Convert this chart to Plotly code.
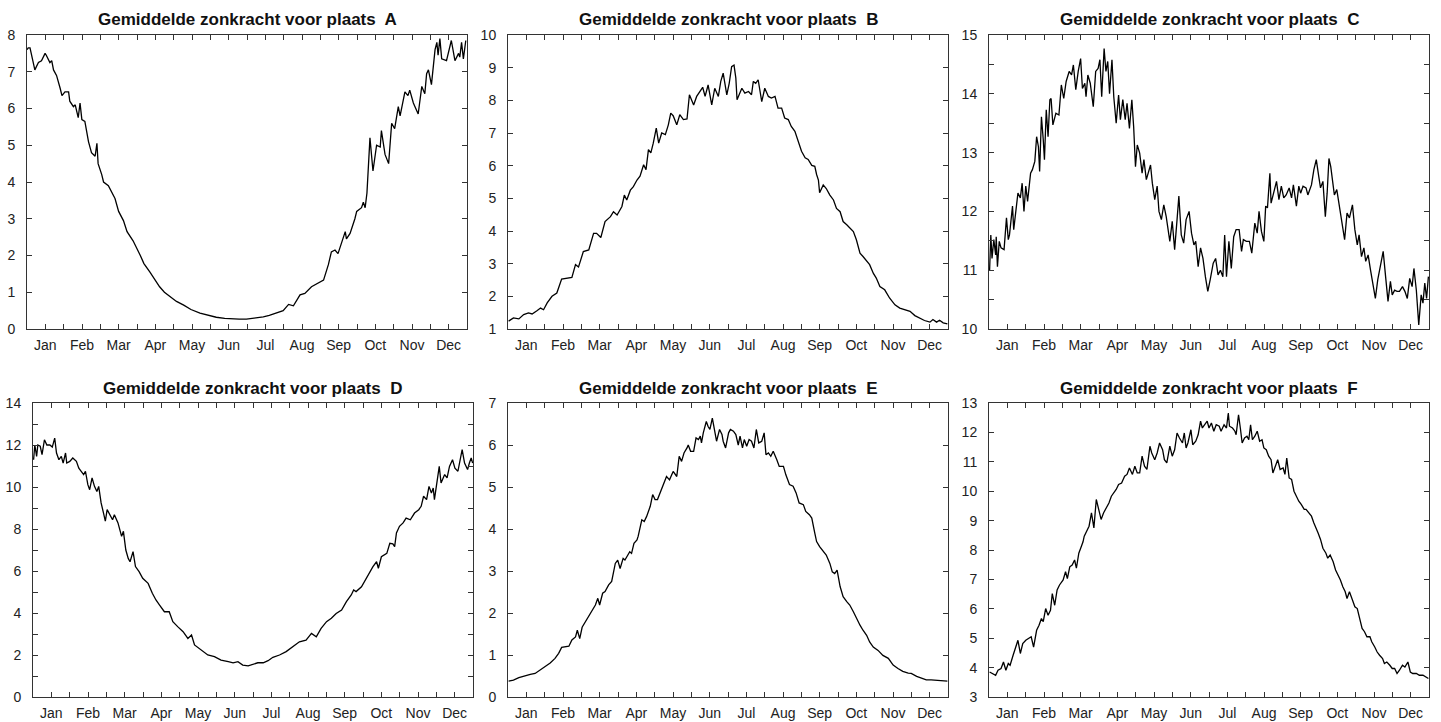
import plotly.graph_objects as go

# ---------------- data (day of year, value) ----------------
MONTHS = ["Jan", "Feb", "Mar", "Apr", "May", "Jun", "Jul", "Aug", "Sep", "Oct", "Nov", "Dec"]
PLACES = ["A", "B", "C", "D", "E", "F"]

A_days = [0, 1, 2.5, 5, 6.5, 9.5, 12, 15, 16, 19,
          20.5, 22, 24.5, 27.5, 29, 31.5, 34.5, 35.5, 38.5, 40,
          42.5, 44, 45.5, 48, 51, 53.5, 56.5, 58, 59, 62,
          63.5, 67.5, 73, 76, 80, 83, 88, 94, 97, 102,
          106, 110, 114, 119, 124, 130, 136, 143.5, 150, 157,
          164, 171, 176, 182, 189, 196, 201, 207, 212.5, 217,
          221, 226.5, 230.5, 236, 243, 246, 250, 252.5, 255.5, 258,
          261, 264, 265, 268, 272, 273.5, 277.5, 279, 280.5, 282,
          284.5, 287, 290, 293, 294, 297, 300, 302.5, 305, 308,
          309.5, 313.5, 316, 317.5, 320.5, 324.5, 327.5, 330, 331.5, 333,
          335.5, 338.5, 340, 341, 342.5, 344, 348, 352, 355, 358,
          359, 360.5, 362, 364]
A_vals = [7.6, 7.65, 7.65, 7.3, 7.05, 7.25, 7.3, 7.5, 7.45, 7.25,
          7.3, 7.05, 6.9, 6.55, 6.35, 6.45, 6.45, 6.2, 6.05, 6.1,
          5.75, 6.15, 5.7, 5.65, 5.1, 4.8, 4.7, 5.05, 4.5, 4.2,
          4.0, 3.9, 3.55, 3.2, 2.95, 2.65, 2.4, 2.0, 1.78, 1.55,
          1.35, 1.15, 1.0, 0.88, 0.75, 0.65, 0.53, 0.43, 0.37, 0.32,
          0.29, 0.27, 0.27, 0.27, 0.29, 0.33, 0.37, 0.43, 0.5, 0.67,
          0.63, 0.93, 0.97, 1.15, 1.29, 1.33, 1.75, 2.1, 2.15, 2.05,
          2.35, 2.65, 2.45, 2.6, 3.0, 3.2, 3.3, 3.45, 3.3, 3.7,
          5.2, 4.3, 5.0, 4.95, 5.4, 4.75, 4.5, 5.6, 5.45, 6.05,
          5.8, 6.45, 6.35, 6.5, 6.15, 5.85, 6.6, 6.4, 6.95, 7.05,
          6.65, 7.6, 7.8, 7.45, 7.9, 7.35, 7.3, 7.85, 7.3, 7.5,
          7.4, 7.8, 7.35, 7.85]

B_days = [0.5, 4.5, 9, 13, 17, 20, 24, 27, 29.5, 32.5,
          36.5, 40.5, 44.5, 49, 53, 56, 58.5, 62.5, 67, 71,
          73.5, 77, 80.5, 85, 87.5, 90.5, 94.5, 96.5, 98.5, 101.5,
          104, 107, 109.5, 112.5, 114.5, 116.5, 118.5, 120.5, 123, 125,
          127.5, 130.5, 133, 135, 137, 140, 142.5, 145.5, 148.5, 150.5,
          154, 156.5, 159.5, 161.5, 163.5, 166, 169, 171.5, 174.5, 176.5,
          178.5, 181.5, 183.5, 185.5, 187.5, 189, 190, 194, 196.5, 199.5,
          202, 203.5, 205.5, 207.5, 210.5, 213, 216, 218.5, 221.5, 224,
          227, 229.5, 232.5, 235, 238, 241, 243.5, 246.5, 249, 252,
          254.5, 256, 257.5, 258.5, 261.5, 264, 267, 270, 272.5, 275.5,
          278, 281, 283.5, 286.5, 289, 292, 294.5, 297.5, 300, 303,
          305.5, 308.5, 312.5, 316.5, 321, 325, 329, 333.5, 337.5, 341.5,
          345.5, 350, 352.5, 355.5, 358, 361, 364.5]
B_vals = [1.24, 1.34, 1.31, 1.44, 1.49, 1.46, 1.56, 1.64, 1.59, 1.80,
          2.0, 2.1, 2.53, 2.56, 2.58, 2.97, 2.9, 3.37, 3.42, 3.93,
          3.93, 3.8, 4.29, 4.44, 4.59, 4.49, 4.75, 5.1, 4.95, 5.25,
          5.36, 5.56, 5.68, 6.03, 5.88, 6.49, 6.39, 6.69, 7.15, 6.69,
          7.0, 6.95, 7.25, 7.61, 7.53, 7.25, 7.56, 7.41, 7.43, 8.17,
          7.86, 8.12, 8.27, 8.4, 8.12, 8.47, 7.86, 8.37, 8.12, 8.58,
          8.83, 8.17, 8.52, 9.03, 9.08, 8.68, 8.02, 8.37, 8.22, 8.27,
          8.17, 8.58, 8.52, 8.63, 7.96, 8.37, 8.12, 8.07, 8.12, 7.76,
          7.76, 7.46, 7.41, 7.2, 7.05, 6.69, 6.44, 6.24, 6.19, 6.01,
          5.98, 5.73, 5.56, 5.17, 5.41, 5.3, 5.1, 4.95, 4.69, 4.59,
          4.29, 4.19, 4.08, 3.98, 3.73, 3.32, 3.22, 3.07, 2.97, 2.71,
          2.56, 2.3, 2.2, 1.95, 1.74, 1.64, 1.59, 1.54, 1.41, 1.34,
          1.26, 1.21, 1.29, 1.21, 1.27, 1.19, 1.16]

C_days = [0.5, 1.5, 2.5, 4, 5.5, 6, 7, 8.5, 10, 12.5,
          14.5, 16, 17, 19.5, 20.5, 22.5, 24, 26, 27.5, 29,
          30.5, 32, 33.5, 34.5, 36, 38, 39.5, 41, 42, 43.5,
          45, 46, 47.5, 49, 50.5, 51.5, 53, 55.5, 58, 60,
          62, 64, 66.5, 68.5, 70, 72, 74, 76, 77.5, 79.5,
          80.5, 82, 84, 86.5, 88.5, 90.5, 92, 93.5, 95.5, 97,
          98.5, 100, 102, 103.5, 105.5, 107.5, 109, 111, 113, 114.5,
          116.5, 118.5, 120, 121.5, 123, 125, 127, 128.5, 130.5, 132.5,
          134, 135.5, 137.5, 139.5, 141, 143, 145, 147, 150, 152,
          154, 156, 157.5, 159.5, 161.5, 163.5, 166, 168, 170, 171.5,
          173.5, 175.5, 177.5, 179.5, 181.5, 183.5, 186, 188, 190, 192,
          194, 195.5, 197, 199, 201, 203, 205, 207.5, 209.5, 211,
          213.5, 216, 218, 220.5, 222.5, 224, 226, 228, 229.5, 231,
          233, 234, 236, 238.5, 240.5, 242.5, 244.5, 246.5, 249, 251,
          252.5, 255, 257, 258.5, 260.5, 263, 264.5, 267.5, 269.5, 271.5,
          273.5, 275, 277, 279, 280.5, 282, 283.5, 285, 286.5, 288.5,
          291, 293, 295, 297, 299, 301.5, 303.5, 305.5, 307, 309,
          311, 312.5, 314.5, 316.5, 318.5, 320.5, 322.5, 324.5, 327, 329,
          331, 333, 334.5, 336.5, 338.5, 340.5, 343, 345, 347, 349,
          351, 352.5, 354.5, 356.5, 358.5, 360, 361.5, 363, 364.5]
C_vals = [11.0, 11.6, 11.2, 11.52, 11.26, 11.57, 11.06, 11.49, 11.38, 11.35,
          11.89, 11.52, 11.6, 12.09, 11.69, 12.09, 12.31, 12.23, 12.48, 12.0,
          12.43, 12.17, 12.51, 12.65, 12.71, 12.85, 13.27, 13.1, 12.68, 13.61,
          13.22, 12.88, 13.73, 13.27, 13.9, 13.92, 13.47, 13.67, 13.64, 14.15,
          13.92, 14.21, 14.38, 14.32, 14.49, 14.07, 14.38, 14.6, 14.09, 14.18,
          13.95, 14.32, 14.18, 13.78, 14.38, 14.43, 14.58, 13.95, 14.77, 14.38,
          14.55, 14.0, 14.58, 13.95, 13.5, 13.98, 13.56, 13.9, 13.56, 13.84,
          13.41, 13.9, 13.44, 12.76, 13.13, 12.99, 12.65, 12.88, 12.54, 12.68,
          12.79, 12.48, 12.2, 12.43, 12.0, 11.86, 12.11, 11.91, 11.49, 11.83,
          11.35, 11.86, 12.26, 11.6, 11.46, 11.86, 12.0, 11.63, 11.43, 11.49,
          11.06, 11.38, 11.2, 10.89, 10.64, 10.84, 11.12, 11.2, 10.92, 11.0,
          10.89, 11.6, 10.89, 11.49, 11.03, 11.57, 11.69, 11.69, 11.32, 11.52,
          11.49, 11.49, 11.29, 11.8, 11.63, 12.0, 11.66, 11.49, 12.09, 12.06,
          12.65, 12.14, 12.31, 12.51, 12.2, 12.43, 12.23, 12.28, 12.4, 12.23,
          12.45, 12.09, 12.43, 12.31, 12.43, 12.4, 12.28, 12.45, 12.71, 12.88,
          12.6, 12.4, 12.51, 11.91, 12.31, 12.9, 12.76, 12.54, 12.28, 12.37,
          12.03, 11.8, 11.52, 11.97, 11.89, 12.11, 11.69, 11.43, 11.6, 11.23,
          11.38, 11.15, 11.26, 11.0, 10.78, 10.52, 10.84, 11.06, 11.32, 10.89,
          10.47, 10.81, 10.58, 10.66, 10.64, 10.64, 10.72, 10.64, 10.52, 10.86,
          10.72, 11.03, 10.66, 10.07, 10.58, 10.44, 10.78, 10.52, 10.89]

D_days = [0.5, 1.5, 3, 4, 6, 7.5, 9.5, 11.5, 14, 16,
          18, 19.5, 21.5, 23.5, 25, 27, 28, 30.5, 33, 36,
          38, 40, 42, 43.5, 45.5, 47, 49, 51, 53, 54.5,
          56.5, 58.5, 60, 61.5, 63.5, 66, 67.5, 70.5, 73.5, 75,
          77, 79, 80.5, 83, 85, 88, 91, 95.5, 99, 102,
          105, 109, 113, 116, 120, 124.5, 128.5, 131.5, 134, 139.5,
          145, 150.5, 156, 162, 166, 170, 174, 178.5, 182.5, 186.5,
          191, 195, 199, 204.5, 210, 215.5, 221, 226.5, 231, 235,
          239, 243.5, 247.5, 251.5, 256, 260, 264, 266, 268, 272.5,
          276.5, 279.5, 282, 285, 286.5, 289, 291.5, 293.5, 296, 298.5,
          300, 301.5, 304, 307, 309.5, 313, 316.5, 320, 322, 324,
          326.5, 328.5, 330.5, 332, 333, 335, 337, 338.5, 341.5, 343.5,
          345.5, 348, 350, 352.5, 354.5, 356, 358, 360.5, 362, 363.5,
          364.7]
D_vals = [11.3, 12.0, 11.46, 12.0, 11.94, 11.54, 12.25, 12.0, 12.0, 11.9,
          12.33, 11.62, 11.3, 11.46, 11.14, 11.62, 11.14, 11.22, 11.38, 11.22,
          10.9, 10.75, 10.59, 10.75, 10.11, 9.87, 10.43, 10.03, 9.79, 10.03,
          9.24, 8.76, 8.37, 8.92, 8.68, 8.44, 8.68, 8.29, 7.65, 7.89,
          7.0, 6.6, 6.44, 6.92, 6.21, 5.97, 5.65, 5.41, 4.94, 4.62,
          4.38, 4.06, 4.06, 3.59, 3.35, 3.11, 2.79, 2.95, 2.48, 2.24,
          2.0, 1.92, 1.76, 1.68, 1.63, 1.68, 1.52, 1.48, 1.57, 1.63,
          1.63, 1.73, 1.89, 2.0, 2.16, 2.4, 2.63, 2.71, 3.03, 2.87,
          3.27, 3.59, 3.75, 3.98, 4.14, 4.54, 4.86, 5.1, 5.02, 5.25,
          5.65, 5.97, 6.21, 6.44, 6.13, 6.68, 6.76, 6.84, 7.32, 7.29,
          7.16, 7.81, 8.13, 8.29, 8.52, 8.44, 8.76, 8.92, 9.08, 9.56,
          9.4, 10.03, 9.71, 9.95, 9.4, 10.11, 10.98, 10.19, 10.59, 10.43,
          10.98, 11.3, 10.9, 10.75, 11.3, 11.78, 11.14, 10.83, 11.14, 11.38,
          11.14]

E_days = [0.5, 4.5, 9, 13, 18.5, 22.5, 27, 31, 35, 39,
          42, 44.5, 47.5, 50.5, 53, 56, 57.5, 59.5, 61.5, 65,
          68, 72.5, 74.5, 76, 78.5, 80.5, 83.5, 86, 89, 91,
          93, 95.5, 97, 99, 101, 102.5, 104.5, 107, 108, 111,
          113, 115, 118, 120, 122, 124, 126, 129, 131.5, 134,
          136, 137, 140, 142, 144, 146, 148.5, 149.5, 151.5, 154,
          156, 158, 159.5, 160.5, 162, 164.5, 166, 167.5, 169.5, 171,
          173, 175.5, 177.5, 178.5, 180.5, 183, 184.5, 187, 189, 191,
          192.5, 194.5, 196, 198, 200, 202, 204, 206, 208, 210.5,
          212.5, 214, 216, 218, 220, 223, 225, 228.5, 230.5, 233.5,
          236.5, 239, 241.5, 245, 247, 250, 252, 254.5, 256, 258.5,
          261.5, 264, 267, 269, 271, 273, 275.5, 278, 281, 283.5,
          286.5, 289, 292, 294.5, 297.5, 300, 303, 307, 311, 315.5,
          319.5, 323.5, 327.5, 332, 334.5, 339, 343, 347, 351, 355.5,
          359.5, 364.5]
E_vals = [0.38, 0.4, 0.46, 0.5, 0.54, 0.56, 0.65, 0.72, 0.81, 0.92,
          1.04, 1.18, 1.2, 1.21, 1.36, 1.43, 1.59, 1.39, 1.66, 1.83,
          1.99, 2.19, 2.35, 2.19, 2.47, 2.51, 2.67, 2.75, 3.18, 3.26,
          3.06, 3.3, 3.26, 3.38, 3.46, 3.42, 3.66, 3.74, 3.83, 4.22,
          4.18, 4.3, 4.54, 4.82, 4.7, 4.7, 4.86, 5.1, 5.25, 5.17,
          5.29, 5.37, 5.25, 5.73, 5.61, 5.81, 5.93, 6.0, 5.85, 5.85,
          6.17, 6.13, 6.21, 6.05, 6.29, 6.56, 6.44, 6.37, 6.64, 6.37,
          6.09, 6.37, 6.25, 6.09, 5.93, 6.29, 6.37, 6.33, 6.25, 6.0,
          6.21, 5.93, 6.13, 5.97, 6.13, 6.09, 5.93, 6.37, 6.05, 6.09,
          6.29, 5.77, 5.81, 5.73, 5.85, 5.65, 5.49, 5.49, 5.29, 5.06,
          5.02, 4.86, 4.62, 4.58, 4.42, 4.34, 4.26, 3.9, 3.7, 3.58,
          3.46, 3.38, 3.18, 2.98, 2.94, 3.02, 2.63, 2.39, 2.27, 2.19,
          2.03, 1.87, 1.71, 1.59, 1.47, 1.31, 1.19, 1.11, 0.99, 0.92,
          0.76, 0.68, 0.61, 0.57, 0.56, 0.49, 0.45, 0.41, 0.41, 0.4,
          0.38, 0.38]

F_days = [0.5, 3.5, 5.5, 7.5, 10, 12, 14, 16, 17.5, 20,
          22, 24, 26, 28, 30.5, 32.5, 35, 37, 39.5, 41.5,
          43.5, 45, 47, 49, 51, 52.5, 54.5, 56.5, 58.5, 61.5,
          63.5, 65, 67, 69, 71, 72.5, 74.5, 76.5, 78, 79,
          80.5, 83, 85, 87, 89, 91, 93, 95, 97.5, 99.5,
          101.5, 103.5, 105.5, 107.5, 110, 112.5, 114.5, 116.5, 119, 121,
          123, 125, 127, 129, 131, 133.5, 135, 137.5, 139.5, 141.5,
          144, 145.5, 147.5, 150, 152, 154, 156, 158, 160.5, 162,
          163.5, 165, 167.5, 169, 171.5, 173.5, 175.5, 177, 179, 181,
          182.5, 184.5, 186.5, 188.5, 191, 192.5, 195, 197, 198.5, 199.5,
          202, 204, 205, 207, 208.5, 210, 212, 214, 215.5, 217,
          218.5, 220.5, 222.5, 224.5, 226.5, 228, 230, 232, 234, 235.5,
          238, 239.5, 241.5, 244, 245.5, 247, 249, 251, 253, 255,
          257, 259, 261.5, 263, 265.5, 267.5, 269.5, 271.5, 273, 275,
          277, 279.5, 281, 283, 285.5, 287.5, 289.5, 291.5, 293.5, 295.5,
          297, 299, 301.5, 303.5, 305.5, 307.5, 309.5, 311.5, 313.5, 316,
          317.5, 320, 322, 324, 326.5, 328, 330, 332.5, 334.5, 336.5,
          338.5, 340.5, 343, 345, 347.5, 349.5, 351.5, 354.5, 357, 360,
          363, 364.5]
F_vals = [3.85, 3.8, 3.74, 3.91, 3.97, 4.19, 3.91, 4.14, 4.08, 4.42,
          4.7, 4.93, 4.48, 4.82, 4.93, 4.99, 5.05, 4.7, 5.27, 5.44,
          5.67, 5.56, 6.01, 5.78, 5.95, 6.52, 6.12, 6.64, 6.81, 6.98,
          7.26, 7.03, 7.43, 7.49, 7.66, 7.38, 7.89, 8.11, 8.28, 8.47,
          8.58, 8.81, 9.26, 8.75, 9.72, 9.38, 9.04, 9.26, 9.43, 9.6,
          9.83, 9.94, 10.06, 10.23, 10.28, 10.51, 10.57, 10.79, 10.57, 10.85,
          10.62, 10.62, 11.19, 10.85, 10.74, 11.53, 11.3, 11.07, 11.3, 11.64,
          11.41, 11.07, 10.96, 11.53, 11.19, 11.41, 11.98, 11.81, 11.64, 11.98,
          11.47, 11.64, 12.09, 11.58, 11.7, 11.92, 12.38, 12.15, 12.26, 12.38,
          12.15, 12.32, 12.04, 12.26, 12.21, 12.04, 12.26, 12.15, 12.66, 12.21,
          12.15, 12.04, 11.92, 12.6, 12.15, 11.64, 11.81, 11.87, 11.75, 12.26,
          11.75, 11.87, 12.04, 11.7, 11.75, 11.47, 11.41, 11.19, 11.07, 10.62,
          10.9, 11.07, 10.74, 10.79, 10.57, 11.13, 10.45, 10.4, 10.0, 9.83,
          9.66, 9.55, 9.38, 9.38, 9.26, 9.15, 8.92, 8.75, 8.58, 8.36,
          8.06, 7.89, 7.72, 7.83, 7.6, 7.32, 7.15, 6.98, 6.75, 6.58,
          6.35, 6.58, 6.3, 6.07, 6.01, 5.61, 5.33, 5.22, 5.05, 5.05,
          4.88, 4.7, 4.53, 4.42, 4.31, 4.14, 4.19, 4.08, 3.97, 3.97,
          3.8, 3.91, 4.08, 4.02, 4.19, 3.85, 3.8, 3.8, 3.74, 3.74,
          3.68, 3.63]

Y_RANGES = [(0, 8), (1, 10), (10, 15), (0, 14), (0, 7), (3, 13)]
Y_DTICKS = [1, 1, 1, 2, 1, 1]
Y_MINOR = [None, None, 0.5, 1, None, None]

SERIES = [(A_days, A_vals), (B_days, B_vals), (C_days, C_vals),
          (D_days, D_vals), (E_days, E_vals), (F_days, F_vals)]

# ---------------- layout geometry (pixels) ----------------
W, H = 1441, 722
BOXES = [(27, 467, 35, 329), (508, 948, 35, 329), (989, 1429, 35, 329),
         (33, 473, 403, 697), (508, 948, 403, 697), (989, 1429, 403, 697)]
TITLE_Y = [20, 20, 20, 388, 388, 388]

FONT = "Liberation Sans, Arial, Helvetica, sans-serif"
AX_COL = "#333333"

tick_days = [k * 365 / 24 for k in range(1, 24)]
tick_text = [MONTHS[(k - 1) // 2] if k % 2 == 1 else "" for k in range(1, 24)]

fig = go.Figure()
annotations = []
for i, ((days, vals), box) in enumerate(zip(SERIES, BOXES)):
    assert len(days) == len(vals), (PLACES[i], len(days), len(vals))
    n = i + 1
    xa = "x" if n == 1 else f"x{n}"
    ya = "y" if n == 1 else f"y{n}"
    xk = "xaxis" if n == 1 else f"xaxis{n}"
    yk = "yaxis" if n == 1 else f"yaxis{n}"
    fig.add_trace(go.Scatter(x=days, y=vals, mode="lines",
                             line=dict(color="black", width=1.3),
                             xaxis=xa, yaxis=ya, showlegend=False,
                             hoverinfo="skip"))
    l, r, t, b = box
    xaxis = dict(domain=[l / W, r / W], anchor=ya, range=[0, 365],
                 tickmode="array", tickvals=tick_days, ticktext=tick_text,
                 ticks="inside", ticklen=5, tickwidth=1, tickcolor=AX_COL,
                 showline=True, linecolor=AX_COL, linewidth=1, mirror="ticks",
                 showgrid=False, zeroline=False, ticklabelstandoff=3,
                 automargin=False,
                 tickfont=dict(family=FONT, size=14, color="#222222"),
                 fixedrange=True)
    y0, y1 = Y_RANGES[i]
    yaxis = dict(domain=[1 - b / H, 1 - t / H], anchor=xa, range=[y0, y1],
                 tickmode="linear", tick0=y0, dtick=Y_DTICKS[i],
                 ticks="inside", ticklen=5, tickwidth=1, tickcolor=AX_COL,
                 showline=True, linecolor=AX_COL, linewidth=1, mirror="ticks",
                 showgrid=False, zeroline=False, ticklabelstandoff=8,
                 automargin=False,
                 tickfont=dict(family=FONT, size=14, color="#222222"),
                 fixedrange=True)
    if Y_MINOR[i]:
        yaxis["minor"] = dict(dtick=Y_MINOR[i], tick0=y0, ticks="inside",
                              ticklen=5, tickcolor=AX_COL, showgrid=False)
    fig.update_layout(**{xk: xaxis, yk: yaxis})
    annotations.append(dict(
        text=f"<b>Gemiddelde zonkracht voor plaats\u00a0 {PLACES[i]}</b>",
        x=(l + r) / 2 / W, y=1 - TITLE_Y[i] / H, xref="paper", yref="paper",
        xanchor="center", yanchor="middle", showarrow=False,
        font=dict(family=FONT, size=17, color="#111111")))

fig.update_layout(width=W, height=H, autosize=False,
                  margin=dict(l=0, r=0, t=0, b=0, autoexpand=False),
                  paper_bgcolor="white", plot_bgcolor="white",
                  annotations=annotations, showlegend=False)

fig.write_html("out.html", config={"displayModeBar": False},
               post_script="document.body.style.margin='0';"
                           "document.body.style.overflow='hidden';")
